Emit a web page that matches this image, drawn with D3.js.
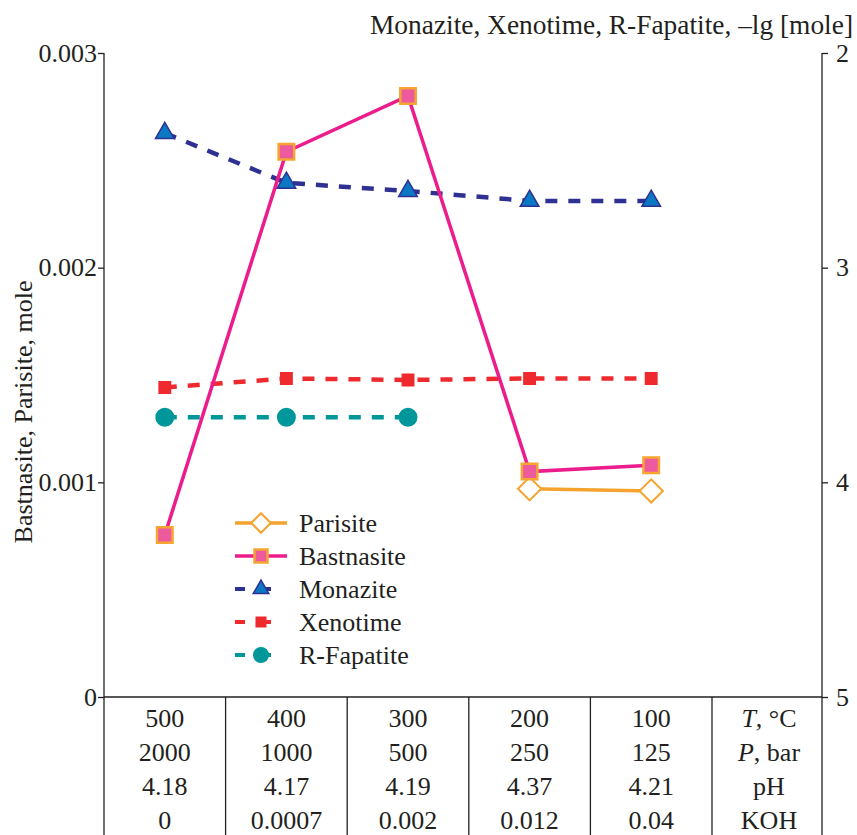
<!DOCTYPE html>
<html>
<head>
<meta charset="utf-8">
<script src="https://cdn.jsdelivr.net/npm/d3@7/dist/d3.min.js"></script>
<style>
  html, body { margin: 0; padding: 0; background: #fff; }
  svg { display: block; font-family: "Liberation Serif", "DejaVu Serif", serif; }
</style>
</head>
<body>
<svg id="chart" width="857" height="835"></svg>
<script>
// Conditions of each step (table below the plot)
const temps = ["500", "400", "300", "200", "100"];
const pressures = ["2000", "1000", "500", "250", "125"];
const phs = ["4.18", "4.17", "4.19", "4.37", "4.21"];
const koh = ["0", "0.0007", "0.002", "0.012", "0.04"];

// Left axis: mole amounts
const parisite = [null, null, null, 0.00097, 0.00096];
const bastnasite = [0.000755, 0.00254, 0.0028, 0.00105, 0.00108];
// Right axis: −lg [mole]
const monazite = [2.373, 2.605, 2.643, 2.689, 2.689];
const xenotime = [3.558, 3.516, 3.523, 3.516, 3.516];
const rfapatite = [3.697, 3.697, 3.697, null, null];

const leftTicks = [0, 0.001, 0.002, 0.003];
const rightTicks = [2, 3, 4, 5];

const svg = d3.select("#chart");
const L = 104, R = 822, T = 53, B = 697, LABEL_R = 712;
const FS = 26;
const INK = "#231f20";

const x = d3.scaleBand().domain(temps).range([L, LABEL_R]);
const xc = d => x(d) + x.bandwidth() / 2;
const yL = d3.scaleLinear().domain([0, 0.003]).range([B, T]);
const yR = d3.scaleLinear().domain([5, 2]).range([B, T]);

// Axes
const leftAxis = d3.axisLeft(yL).tickValues(leftTicks).tickSize(6).tickPadding(1)
  .tickFormat(d => d === 0 ? "0" : d3.format(".3f")(d));
const rightAxis = d3.axisRight(yR).tickValues(rightTicks).tickSize(6).tickPadding(8)
  .tickFormat(d3.format("d"));

const gl = svg.append("g").attr("transform", `translate(${L},0)`).call(leftAxis);
const gr = svg.append("g").attr("transform", `translate(${R},0)`).call(rightAxis);
[gl, gr].forEach(g => {
  g.select(".domain").remove();
  g.selectAll("line").attr("stroke", INK).attr("stroke-width", 1.3);
  g.selectAll("text").attr("font-size", FS).attr("font-family", "Liberation Serif").attr("fill", INK);
});
svg.append("line").attr("x1", L).attr("x2", L).attr("y1", T).attr("y2", 835)
  .attr("stroke", INK).attr("stroke-width", 1.3);
svg.append("line").attr("x1", R).attr("x2", R).attr("y1", T).attr("y2", 835)
  .attr("stroke", INK).attr("stroke-width", 1.3);
svg.append("line").attr("x1", L).attr("x2", R).attr("y1", B).attr("y2", B)
  .attr("stroke", INK).attr("stroke-width", 1.3);

// Axis titles
svg.append("text").attr("x", 853).attr("y", 34).attr("text-anchor", "end")
  .attr("font-size", 27.4).attr("fill", INK)
  .text("Monazite, Xenotime, R-Fapatite, \u2013lg [mole]");
svg.append("text").attr("transform", "translate(32,412) rotate(-90)")
  .attr("text-anchor", "middle").attr("font-size", FS).attr("fill", INK)
  .text("Bastnasite, Parisite, mole");

// Conditions table
const rows = [temps, pressures, phs, koh];
const rowLabels = [
  [{t: "T", i: true}, {t: ", \u00b0C"}],
  [{t: "P", i: true}, {t: ", bar"}],
  [{t: "pH"}],
  [{t: "KOH"}]
];
const rowY = [727, 761, 795, 829];
temps.slice(1).forEach(t => {
  svg.append("line").attr("x1", x(t)).attr("x2", x(t)).attr("y1", B).attr("y2", 835)
    .attr("stroke", INK).attr("stroke-width", 1.3);
});
svg.append("line").attr("x1", LABEL_R).attr("x2", LABEL_R).attr("y1", B).attr("y2", 835)
  .attr("stroke", INK).attr("stroke-width", 1.3);
rows.forEach((row, r) => {
  svg.append("g").selectAll("text").data(row).join("text")
    .attr("x", (d, i) => xc(temps[i])).attr("y", rowY[r])
    .attr("text-anchor", "middle").attr("font-size", FS).attr("fill", INK)
    .text(d => d);
  const lt = svg.append("text").attr("x", (LABEL_R + R) / 2 + 2).attr("y", rowY[r])
    .attr("text-anchor", "middle").attr("font-size", FS).attr("fill", INK);
  rowLabels[r].forEach(p => lt.append("tspan").attr("font-style", p.i ? "italic" : null).text(p.t));
});

// Series definitions
const series = [
  {name: "Parisite", data: parisite, y: yL, color: "#F4A32E", width: 3.5, dash: null,
   marker: "diamond", fill: "#fff", stroke: "#F4A32E", size: 270},
  {name: "Bastnasite", data: bastnasite, y: yL, color: "#EC1C8C", width: 3.5, dash: null,
   marker: "square", fill: "#EE5A9E", stroke: "#F6A530", size: 240},
  {name: "Monazite", data: monazite, y: yR, color: "#2E3192", width: 4.5, dash: "12,11",
   marker: "triangle", fill: "#0A78C2", stroke: "#2E3192", size: 150},
  {name: "Xenotime", data: xenotime, y: yR, color: "#EE2A2E", width: 4.5, dash: "12,11",
   marker: "square", fill: "#EE2A2E", stroke: "#EE2A2E", size: 130},
  {name: "R-Fapatite", data: rfapatite, y: yR, color: "#00979A", width: 4.5, dash: "12,11",
   marker: "circle", fill: "#00979A", stroke: "#00979A", size: 240}
];
const symbolType = {
  diamond: d3.symbolSquare, square: d3.symbolSquare,
  triangle: d3.symbolTriangle, circle: d3.symbolCircle
};
function drawMarker(g, s, cx, cy) {
  const sym = d3.symbol().type(symbolType[s.marker]).size(s.size);
  g.append("path").attr("d", sym())
    .attr("transform", `translate(${cx},${cy})` + (s.marker === "diamond" ? " rotate(45)" : ""))
    .attr("fill", s.fill).attr("stroke", s.stroke)
    .attr("stroke-width", s.marker === "diamond" ? 2 : (s.name === "Bastnasite" ? 2.5 : 1.5));
}

const drawOrder = ["Xenotime", "R-Fapatite", "Monazite", "Parisite", "Bastnasite"];
drawOrder.map(n => series.find(s => s.name === n)).forEach(s => {
  const pts = s.data.map((v, i) => ({k: temps[i], v})).filter(p => p.v !== null);
  const line = d3.line().x(p => xc(p.k)).y(p => s.y(p.v));
  const g = svg.append("g");
  g.append("path").attr("d", line(pts)).attr("fill", "none")
    .attr("stroke", s.color).attr("stroke-width", s.width)
    .attr("stroke-dasharray", s.dash);
  pts.forEach(p => drawMarker(g, s, xc(p.k), s.y(p.v)));
});

// Legend
const legend = svg.append("g");
series.forEach((s, i) => {
  const ly = 523 + i * 33;
  const g = legend.append("g");
  g.append("line").attr("x1", 235).attr("x2", 287).attr("y1", ly).attr("y2", ly)
    .attr("stroke", s.color).attr("stroke-width", s.dash ? 4 : 3.5)
    .attr("stroke-dasharray", s.dash ? "10,16" : null);
  drawMarker(g, Object.assign({}, s, {size: s.size * 0.7}), 261, ly);
  g.append("text").attr("x", 299).attr("y", ly + 9).attr("font-size", FS).attr("fill", INK)
    .text(s.name);
});
</script>
</body>
</html>
